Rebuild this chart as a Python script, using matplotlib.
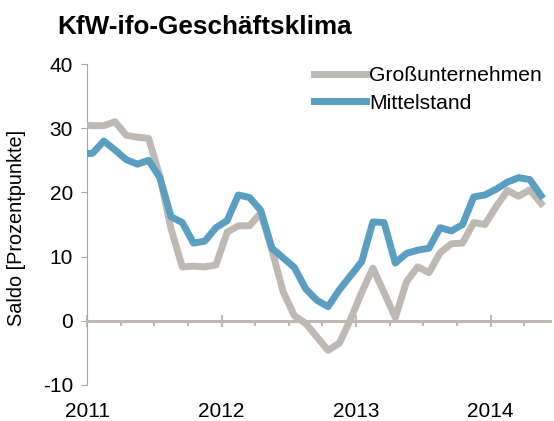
import numpy as np
import matplotlib.pyplot as plt
from matplotlib.ticker import MultipleLocator

plt.rcParams['font.family'] = ['Liberation Sans', 'DejaVu Sans']
plt.rcParams['axes.unicode_minus'] = False

# monthly values, Dec 2010 .. May 2014 (x = months since Jan 2011, mid-month)
months = np.arange(42) - 0.5
gross = [30.5, 30.4, 30.4, 31.0, 28.9, 28.6, 28.4, 22.5, 14.3, 8.4,
         8.5, 8.4, 8.7, 13.8, 14.8, 14.8, 16.8, 11.0, 4.5, 0.8,
         -0.4, -2.5, -4.6, -3.5, 0.2, 4.4, 8.2, 4.4, 0.5, 6.1,
         8.4, 7.5, 10.6, 12.0, 12.1, 15.3, 15.0, 17.8, 20.3, 19.4,
         20.4, 18.3]
mittel = [26.0, 26.1, 28.0, 26.6, 25.1, 24.4, 25.0, 22.3, 16.2, 15.3,
          12.1, 12.4, 14.5, 15.6, 19.6, 19.2, 17.2, 11.3, 9.8, 8.3,
          5.0, 3.2, 2.2, 4.8, 7.0, 9.2, 15.4, 15.3, 9.0, 10.5,
          11.0, 11.3, 14.5, 14.0, 15.0, 19.3, 19.6, 20.5, 21.6, 22.3,
          22.0, 19.5]
years = ['2011', '2012', '2013', '2014']
year_pos = [0, 12, 24, 36]

gray = '#BFB9B4'
blue = '#5A9EC2'

fig = plt.figure(figsize=(5.54, 4.21), dpi=100)
ax = fig.add_axes([87/554, 1-385/421, (550-87)/554, (385-64)/421])

ax.plot(months, gross, color=gray, lw=5, zorder=3, label='Großunternehmen')
ax.plot(months, mittel, color=blue, lw=5, zorder=4, label='Mittelstand')

ax.set_xlim(0, 41.3)
ax.set_ylim(-10, 40)
ax.set_yticks([-10, 0, 10, 20, 30, 40])

for s in ['top', 'right']:
    ax.spines[s].set_visible(False)
ax.spines['left'].set_color('#A8A8A8')
ax.spines['left'].set_linewidth(0.8)
ax.spines['bottom'].set_position(('data', 0))
ax.spines['bottom'].set_color(gray)
ax.spines['bottom'].set_linewidth(2.2)

ax.tick_params(axis='y', length=4, width=0.8, color='#A8A8A8',
               labelsize=15, pad=6)
ax.set_xticks(year_pos)
ax.xaxis.set_minor_locator(MultipleLocator(3))
ax.tick_params(axis='x', which='major', direction='inout', length=9,
               width=1.5, color=gray, labelbottom=False)
ax.tick_params(axis='x', which='minor', direction='out', length=3.5,
               width=1.5, color=gray)

sec = ax.secondary_xaxis('bottom')
sec.set_xticks(year_pos, years)
sec.spines['bottom'].set_visible(False)
sec.tick_params(length=0, labelsize=15, pad=12)

fig.text(57/554, 1-27/421, 'KfW-ifo-Geschäftsklima', fontsize=18.8,
         fontweight='bold', va='center', ha='left')
fig.text(17/554, 1-228/421, 'Saldo [Prozentpunkte]', fontsize=14.3,
         rotation=90, va='center', ha='center')

ax.legend(loc='upper left', bbox_to_anchor=(314/554, 1-66/421),
          bbox_transform=fig.transFigure, frameon=False, fontsize=15.2,
          handlelength=2.45, handletextpad=0.15, borderpad=0,
          borderaxespad=0, labelspacing=0.42)

fig.savefig('out.png', dpi=100)
